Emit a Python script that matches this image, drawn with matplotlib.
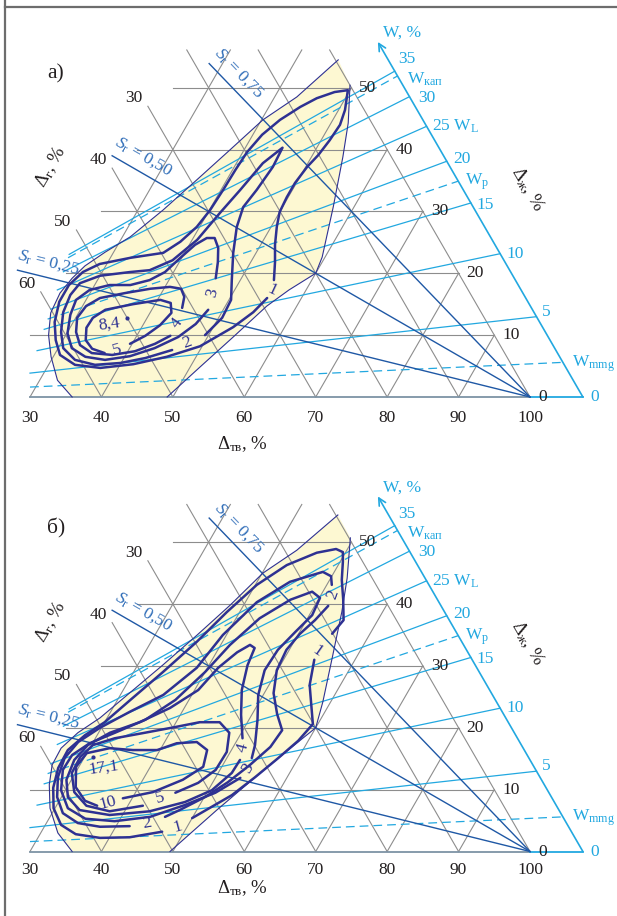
import numpy as np
import matplotlib.pyplot as plt
from matplotlib.lines import Line2D

plt.rcParams['font.family'] = ['Liberation Serif', 'DejaVu Serif']
plt.rcParams['mathtext.fontset'] = 'custom'
plt.rcParams['mathtext.rm'] = 'Liberation Serif'
plt.rcParams['mathtext.it'] = 'Liberation Serif:italic'
plt.rcParams['mathtext.bf'] = 'Liberation Serif:bold'

# ---- scales of the ternary diagram, % ----
solid_ticks = [30, 40, 50, 60, 70, 80, 90, 100]     # Δтв
liquid_ticks = [0, 10, 20, 30, 40, 50]              # Δж
gas_ticks = [30, 40, 50, 60]                        # Δг
sr_values = [0.25, 0.50, 0.75]
sr_names = ['0,25', '0,50', '0,75']
w_values = [0, 5, 10, 15, 20, 25, 30, 35]            # W, %
w_limit_values = [2.0, 17.5, 25.0, 34.0]
w_limit_names = ['mmg', 'p', 'L', 'кап']
rho_s = 2.75                                        # g/cm3

# ---- panel а): data envelope and isolines, points are (Δтв, Δж) ----
a_envelope = [(49.6, 50.4), (52.4, 44.3), (54.4, 38.8), (57.1, 30.7), (59.6, 22.6), (60.0, 20.0),
              (57.6, 17.3), (55.8, 14.7), (53.6, 9.7), (51.4, 4.9), (49.2, 0.0), (35.9, 0.0),
              (32.5, 2.7), (29.7, 6.5), (27.6, 10.0), (26.1, 13.6), (25.8, 16.8), (26.3, 19.2),
              (27.1, 21.2), (28.8, 23.4), (31.1, 25.9), (33.5, 30.2), (35.8, 35.1), (38.0, 39.9),
              (40.2, 44.8), (43.1, 48.5), (45.9, 54.5)]
a_lines = [
    [[(55.2, 16.0), (54.4, 13.7), (52.8, 11.3), (49.7, 8.2), (45.9, 6.5), (41.8, 5.3), (37.5, 4.7),
      (33.7, 5.2), (30.8, 6.8), (29.0, 9.2), (27.4, 12.1), (26.4, 15.4), (26.4, 18.1), (27.3, 20.2),
      (29.0, 21.5), (32.8, 22.5), (37.0, 23.3), (38.5, 25.1), (39.6, 27.5), (40.1, 30.2), (40.3, 33.5),
      (40.4, 36.7), (40.6, 39.6), (41.3, 42.4), (42.6, 44.8), (44.4, 46.9), (46.0, 48.3), (48.0, 49.3),
      (49.7, 49.6), (50.9, 46.4), (51.4, 44.0), (51.2, 41.5), (50.8, 39.1), (50.2, 37.2), (49.8, 34.6),
      (49.8, 32.3), (50.0, 29.9), (50.8, 27.5), (52.0, 24.6), (53.4, 21.8), (54.7, 18.9)]],
    [[(46.1, 7.6), (43.0, 6.3), (39.9, 5.5), (36.5, 5.2), (33.3, 6.0), (30.7, 7.9), (29.1, 10.5),
      (27.8, 13.7), (27.4, 16.5), (27.8, 18.4), (30.0, 19.6), (33.9, 20.2), (36.5, 20.5), (38.9, 22.1),
      (40.7, 25.4), (41.7, 29.7), (42.7, 33.5), (43.7, 37.8), (45.2, 40.3), (45.4, 37.2), (45.0, 33.5),
      (44.5, 30.7), (45.2, 27.5), (46.8, 23.3), (48.8, 18.9), (50.3, 15.7), (50.5, 12.8), (49.5, 10.0)]],
    [[(47.9, 14.1), (47.3, 11.8), (45.9, 9.7), (43.5, 7.9), (40.7, 6.6), (37.5, 6.0), (34.5, 6.5),
      (31.9, 7.9), (30.1, 10.3), (29.0, 13.3), (28.6, 15.7), (29.7, 17.3), (32.1, 18.1), (35.0, 18.1),
      (37.3, 18.9), (38.8, 20.2), (39.8, 22.5), (40.8, 24.6), (41.9, 25.7), (43.0, 25.7), (44.3, 24.1),
      (45.4, 21.8), (46.4, 19.2)]],
    [[(44.7, 9.9), (43.2, 8.6), (41.0, 7.4), (38.1, 6.8), (35.1, 7.1), (32.8, 8.4), (31.2, 10.5),
      (30.2, 12.8), (30.5, 14.7), (31.8, 16.0), (34.9, 16.8), (38.1, 17.5), (40.7, 17.8), (42.4, 17.5),
      (43.5, 16.2), (44.1, 14.4)]],
    [[(39.7, 8.6), (41.2, 9.9), (42.4, 11.6), (43.0, 13.6), (42.1, 15.2), (40.4, 15.7), (36.9, 15.0),
      (33.5, 14.1), (32.4, 12.8), (32.3, 11.2), (33.2, 9.2), (34.8, 7.8), (36.9, 7.1)]],
]
a_labels = [('1', 55.2, 17.3), ('2', 47.6, 8.7), ('3', 47.2, 16.8), ('4', 44.6, 12.0), ('5', 38.4, 7.6)]
a_peak = ('8,4', 37.2, 12.8)

# ---- panel б) ----
b_envelope = [(49.5, 50.7), (52.3, 44.2), (54.3, 38.7), (56.5, 31.8), (58.9, 24.2), (60.0, 20.0),
              (56.4, 13.7), (52.8, 6.7), (49.6, 0.0), (35.9, 0.0), (32.4, 3.0), (29.3, 7.0),
              (27.3, 10.8), (26.1, 14.0), (26.0, 16.7), (27.1, 19.2), (29.0, 21.6), (30.8, 25.0),
              (33.5, 30.1), (35.9, 35.0), (38.1, 39.8), (40.1, 45.0), (43.0, 48.7), (45.9, 54.4)]
b_lines = [
    [[(54.3, 31.0), (55.7, 26.9), (57.7, 23.4), (59.3, 20.6), (58.6, 17.9), (57.2, 15.1), (55.5, 12.0),
      (53.7, 9.1), (51.5, 6.9), (50.0, 5.4)],
     [(46.9, 3.2), (42.8, 2.3), (38.7, 2.2), (35.0, 2.8), (32.2, 4.3), (29.8, 7.0), (28.1, 10.3),
      (27.2, 13.5), (27.1, 16.4), (28.3, 18.8), (30.0, 20.9), (31.8, 24.5), (34.1, 29.0), (36.4, 33.9),
      (38.2, 38.7), (40.2, 43.1), (42.8, 46.3), (46.0, 48.3), (48.4, 48.9), (49.6, 48.4), (50.4, 46.8),
      (51.7, 43.9), (53.5, 40.7), (55.2, 37.4), (54.7, 35.2)]],
    [[(51.9, 39.7), (51.2, 37.4), (50.2, 35.2), (49.6, 32.6), (49.9, 29.3), (51.3, 25.6), (53.5, 22.2),
      (55.5, 19.6), (55.2, 16.9), (53.8, 14.0), (52.1, 11.2), (50.1, 8.8), (47.6, 6.7), (46.1, 5.6)],
     [(41.9, 4.1), (37.8, 4.0), (34.4, 4.6), (31.5, 6.2), (29.4, 8.8), (27.9, 12.0), (27.3, 15.1),
      (27.9, 17.7), (29.8, 20.0), (32.7, 22.6), (36.0, 25.3), (38.5, 29.7), (39.5, 35.0), (41.6, 40.3),
      (44.6, 43.6), (48.4, 45.2), (49.9, 44.5), (50.7, 43.1)]],
    [[(53.5, 11.9), (51.2, 9.5), (47.9, 7.5), (44.0, 5.6), (39.4, 4.9), (35.1, 5.3), (31.8, 7.0),
      (29.4, 9.9), (28.0, 13.2), (28.1, 15.6), (29.6, 17.5), (32.3, 19.2), (35.5, 21.3), (38.1, 24.5),
      (40.0, 29.0), (41.3, 33.4), (43.3, 37.7), (46.1, 40.7), (48.5, 42.0), (50.1, 41.0), (50.4, 38.2),
      (49.4, 35.5), (48.4, 32.6), (48.2, 29.3), (49.3, 25.3), (51.2, 21.3), (52.9, 17.2), (53.5, 15.1)]],
    [[(50.6, 18.3), (48.5, 22.1), (46.6, 26.1), (45.4, 30.1), (45.0, 32.9), (44.1, 33.4), (42.9, 32.2),
      (41.5, 29.7), (40.5, 26.1), (38.0, 23.2), (34.9, 20.9), (31.6, 19.2), (29.5, 17.2), (28.8, 14.8),
      (29.3, 11.6), (30.9, 8.8), (33.6, 6.7), (38.2, 5.9), (43.5, 6.5), (47.7, 8.0), (50.5, 9.9),
      (51.9, 12.7), (52.0, 14.8)]],
    [[(45.6, 9.5), (48.0, 11.1), (49.4, 13.2), (49.5, 16.1), (48.3, 19.2), (46.1, 20.9), (43.3, 20.9),
      (40.2, 20.1), (36.5, 19.2), (32.7, 18.3), (30.2, 17.2), (29.4, 15.3), (29.5, 12.7), (31.4, 9.6),
      (34.2, 7.4), (37.9, 6.5), (42.1, 7.4)]],
    [[(38.7, 8.6), (42.4, 9.6), (45.6, 11.6), (47.4, 13.7), (46.6, 16.4), (44.5, 17.7), (41.8, 17.5),
      (39.6, 16.4), (36.2, 16.4), (32.8, 16.7), (30.0, 15.9), (29.6, 13.7), (31.2, 10.4), (33.6, 8.2),
      (35.7, 7.4)]],
]
b_labels = [('1', 54.1, 32.3), ('1', 48.6, 4.0), ('2', 51.7, 41.5), ('2', 44.1, 4.6), ('3', 53.8, 13.5),
            ('4', 51.5, 16.7), ('5', 43.9, 8.6), ('10', 37.0, 7.8)]
b_peak = ('17,1', 31.2, 15.3)

# ---- look ----
NAVY = '#2e3192'
GRAY = '#8d8d8d'
CYAN = '#22a8e0'
SRBLUE = '#1f58a5'
SRTEXT = '#2f6db8'
FILL = '#fdf8d2'
INK = '#231f20'
SQ3 = np.sqrt(3) / 2
TOP = 56.1            # upper edge of the drawn grid (Δж)
W_AXIS = 107.4        # W scale runs along Δтв + Δж = const
SR_START = [20.5, 39.0, 53.9]
PX = 7.143            # pixels per percent


def pt(dtv, dzh):
    return dtv + dzh / 2, dzh * SQ3


def tern(points):
    p = np.asarray(points, float)
    return p[:, 0] + p[:, 1] / 2, p[:, 1] * SQ3


def seg(ax, p, q, **kw):
    (x0, y0), (x1, y1) = pt(*p), pt(*q)
    ax.plot([x0, x1], [y0, y1], **kw)


def w_point(w):
    k = rho_s * w / 100
    d = W_AXIS / (1 + k)
    return pt(d, k * d)


fig = plt.figure(figsize=(6.17, 9.16), dpi=100)


def make_axes(top_px, base_px, height_px=458):
    ax = fig.add_axes([0, 1 - (top_px + height_px) / 916, 1, height_px / 916])
    ax.set_xlim(30 - 30 / PX, 30 + 587 / PX)
    ax.set_ylim(-(top_px + height_px - base_px) / PX, (base_px - top_px) / PX)
    ax.axis('off')
    return ax


def draw_panel(ax, tag, envelope, lines, labels, label_rot, peak, peak_text_off, tick_pad, title_pad):
    # envelope of the measurements
    ex, ey = tern(envelope)
    ax.fill(ex, ey, color=FILL, lw=0, zorder=1)
    base = [i for i, p in enumerate(envelope) if p[1] == 0]
    for part in (envelope[:base[0] + 1], envelope[base[1]:]):
        px, py = tern(part)
        ax.plot(px, py, color=NAVY, lw=0.8, zorder=4)

    # ternary grid
    grid = dict(color=GRAY, lw=0.8, zorder=2)
    for d in liquid_ticks[1:]:
        seg(ax, (25, d), (100 - d, d), **grid)
    for t in solid_ticks[:-1]:
        seg(ax, (t, 0), (t, min(TOP, 100 - t)), **grid)
    for g in range(0, 70, 10):
        h = min(TOP, 77 - g)
        seg(ax, (100 - g, 0), (100 - g - h, h), **grid)
    seg(ax, (30, 0), (100, 0), color='#7d93a5', lw=1.3, zorder=2)

    # moisture rays
    rays = [(w, '-') for w in w_values[1:]] + [(w, (0, (7, 4))) for w in w_limit_values if w not in w_values]
    for w, ls in rays:
        k = rho_s * w / 100
        s = k * SQ3 / (1 + k / 2)
        x0 = max(30.0, 28.83 / (1 - s / 3))
        x1 = W_AXIS / (1 + k) * (1 + k / 2)
        ax.plot([x0, x1], [s * x0, s * x1], color=CYAN, lw=0.9, ls=ls, zorder=3)
    ax.plot([100, W_AXIS], [0, 0], color=CYAN, lw=1.3, zorder=3)
    ax.annotate('', xy=pt(W_AXIS - 57.4, 57.4), xytext=pt(W_AXIS, 0),
                arrowprops=dict(arrowstyle='->', color=CYAN, lw=1.2, shrinkA=0, shrinkB=0,
                                mutation_scale=13), zorder=3)
    w_text = {w: str(w) for w in w_values}
    w_text[25] = r'25 W$_\mathrm{L}$'
    for w, name in zip(w_limit_values, w_limit_names):
        if w not in w_values:
            w_text[w] = r'W$_\mathrm{%s}$' % name
    w_off = {0: (8, 0), 5: (5, 5), 10: (6, 0), 15: (6, -2), 20: (6, 2), 25: (5, 0), 30: (9, -1),
             35: (3, 12), 2.0: (9, -1), 17.5: (7, -1), 34.0: (9, -3)}
    for w, txt in w_text.items():
        ax.annotate(txt, xy=w_point(w), xytext=w_off[w], textcoords='offset pixels',
                    ha='left', va='center', color=CYAN, fontsize=12.5)
    ax.text(82.1, 51.0, 'W, %', color=CYAN, fontsize=12.5, ha='center', va='center')

    # degree of saturation rays
    corner = pt(100, 0)
    for sr, name, d0 in zip(sr_values, sr_names, SR_START):
        start = pt(100 - d0 / sr, d0)
        ax.plot([start[0], corner[0]], [start[1], corner[1]], color=SRBLUE, lw=1.0, zorder=3)
        dx, dy = corner[0] - start[0], corner[1] - start[1]
        ln = np.hypot(dx, dy)
        ux, uy = dx / ln, dy / ln
        ax.annotate(r'$S_\mathrm{r}$ = ' + name, xy=start, xytext=(28 * ux - 15 * uy, 28 * uy + 15 * ux),
                    textcoords='offset pixels', rotation=np.degrees(np.arctan2(dy, dx)),
                    rotation_mode='anchor', ha='center', va='center', color=SRTEXT, fontsize=12.5)

    # isolines
    for segs in lines:
        for s in segs:
            x, y = tern(s)
            ax.plot(x, y, color=NAVY, lw=1.8, solid_joinstyle='round', solid_capstyle='round', zorder=5)
    for (txt, dtv, dzh), rot in zip(labels, label_rot):
        ax.text(*pt(dtv, dzh), txt, rotation=rot, ha='center', va='center', color=NAVY,
                fontsize=12.5, zorder=6)
    txt, dtv, dzh = peak
    ax.plot(*pt(dtv, dzh), 'o', ms=2, color=NAVY, zorder=6)
    ax.annotate(txt, xy=pt(dtv, dzh), xytext=peak_text_off, textcoords='offset pixels',
                ha='center', va='center', color=NAVY, fontsize=12.5, rotation=8, zorder=6)

    # scales
    for t in solid_ticks:
        ax.annotate(str(t), xy=pt(t, 0), xytext=(0, -tick_pad), textcoords='offset pixels',
                    ha='center', va='center', fontsize=12.5, color=INK)
    for d in liquid_ticks:
        ax.annotate(str(d), xy=pt(100 - d, d), xytext=(8, 0), textcoords='offset pixels',
                    ha='left', va='center', fontsize=12.5, color=INK)
    for g in gas_ticks:
        ax.annotate(str(g), xy=pt(23, 77 - g), xytext=(-14, 8), textcoords='offset pixels',
                    ha='center', va='center', fontsize=12.5, color=INK)
    ax.annotate(r'$\Delta_\mathrm{тв}$, %', xy=pt(59.8, 0), xytext=(0, -title_pad), textcoords='offset pixels',
                ha='center', va='center', fontsize=13.5, color=INK)
    ax.text(32.94, 32.2, r'$\Delta_\mathrm{г}$, %', rotation=60, ha='center', va='center',
            fontsize=13.5, color=INK)
    ax.text(99.6, 29.2, r'$\Delta_\mathrm{ж}$, %', rotation=-60, ha='center', va='center',
            fontsize=13.5, color=INK)
    ax.text(33.6, 45.2, tag, fontsize=15.5, ha='center', va='center', color=INK)


ax_a = make_axes(0, 397)
draw_panel(ax_a, 'а)', a_envelope, a_lines, a_labels, [-25, 20, 75, 55, 15], a_peak, (-18, -6), 21, 47)

ax_b = make_axes(458, 851.5)
draw_panel(ax_b, 'б)', b_envelope, b_lines, b_labels, [-35, 15, 70, 10, 60, 75, 15, 15], b_peak,
           (10, -11), 18, 37)

fig.add_artist(Line2D([5 / 617, 5 / 617], [0, 1], transform=fig.transFigure, color='#6d6d6d', lw=1.6))
fig.add_artist(Line2D([5 / 617, 1], [1 - 7 / 916] * 2, transform=fig.transFigure, color='#6d6d6d', lw=1.6))

fig.savefig('out.png', dpi=100, facecolor='white')
